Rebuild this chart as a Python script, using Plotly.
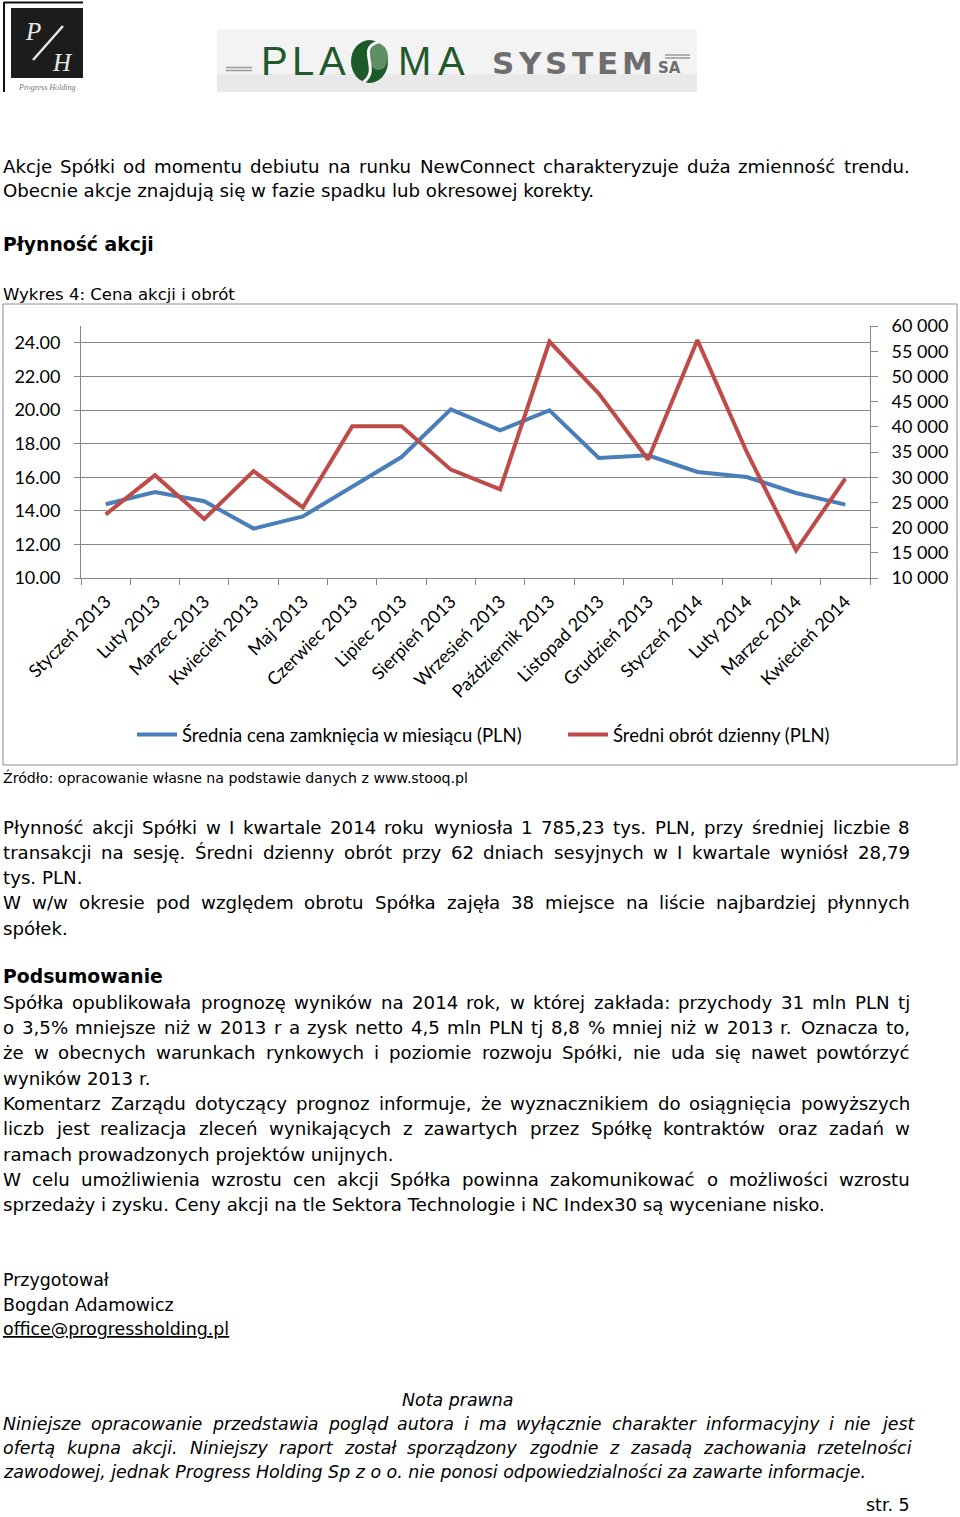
import glob
import struct
import plotly.graph_objects as go

# ---------------- data ----------------
months = ["Styczeń 2013", "Luty 2013", "Marzec 2013", "Kwiecień 2013", "Maj 2013",
          "Czerwiec 2013", "Lipiec 2013", "Sierpień 2013", "Wrzesień 2013",
          "Październik 2013", "Listopad 2013", "Grudzień 2013", "Styczeń 2014",
          "Luty 2014", "Marzec 2014", "Kwiecień 2014"]
avg_close = [14.39, 15.12, 14.57, 12.94, 13.67, 15.42, 17.20, 20.04, 18.79,
             19.98, 17.14, 17.30, 16.31, 16.01, 15.06, 14.37]
avg_turnover = [22600, 30400, 21700, 31200, 24000, 40100, 40100, 31500, 27600,
                56900, 46600, 33500, 57200, 35000, 15500, 29700]
series_names = ["Średnia cena zamknięcia w miesiącu (PLN)", "Średni obrót dzienny (PLN)"]

para1 = ["Akcje Spółki od momentu debiutu na runku NewConnect charakteryzuje duża zmienność trendu.",
         "Obecnie akcje znajdują się w fazie spadku lub okresowej korekty."]
para2 = ["Płynność akcji Spółki w I kwartale 2014 roku wyniosła 1 785,23 tys. PLN, przy średniej liczbie 8",
         "transakcji na sesję. Średni dzienny obrót przy 62 dniach sesyjnych w I kwartale wyniósł 28,79",
         "tys. PLN.",
         "W w/w okresie pod względem obrotu Spółka zajęła 38 miejsce na liście najbardziej płynnych",
         "spółek."]
para2_just = [True, True, False, True, False]
para3 = ["Spółka opublikowała prognozę wyników na 2014 rok, w której zakłada: przychody 31 mln PLN tj",
         "o 3,5% mniejsze niż w 2013 r a zysk netto 4,5 mln PLN tj 8,8 % mniej niż w 2013 r. Oznacza to,",
         "że w obecnych warunkach rynkowych i poziomie rozwoju Spółki, nie uda się nawet powtórzyć",
         "wyników 2013 r.",
         "Komentarz Zarządu dotyczący prognoz informuje, że wyznacznikiem do osiągnięcia powyższych",
         "liczb jest realizacja zleceń wynikających z zawartych przez Spółkę kontraktów oraz zadań w",
         "ramach prowadzonych projektów unijnych.",
         "W celu umożliwienia wzrostu cen akcji Spółka powinna zakomunikować o możliwości wzrostu",
         "sprzedaży i zysku. Ceny akcji na tle Sektora Technologie i NC Index30 są wyceniane nisko."]
para3_just = [True, True, True, False, True, True, False, True, False]
note = ["Niniejsze opracowanie przedstawia pogląd autora i ma wyłącznie charakter informacyjny i nie jest",
        "ofertą kupna akcji. Niniejszy raport został sporządzony zgodnie z zasadą zachowania rzetelności",
        "zawodowej, jednak Progress Holding Sp z o o. nie ponosi odpowiedzialności za zawarte informacje."]
note_just = [True, True, False]

# ---------------- font metrics (for justified text) ----------------
def load_metrics(name):
    paths = glob.glob("/usr/share/fonts/**/" + name, recursive=True)
    if not paths:
        return None
    data = open(paths[0], "rb").read()
    ntab = struct.unpack(">H", data[4:6])[0]
    tabs = {}
    for i in range(ntab):
        tag, cs, off, ln = struct.unpack(">4sIII", data[12 + 16 * i:28 + 16 * i])
        tabs[tag.decode("latin1")] = off
    head = tabs["head"]
    upem = struct.unpack(">H", data[head + 18:head + 20])[0]
    hhea = tabs["hhea"]
    nhm = struct.unpack(">H", data[hhea + 34:hhea + 36])[0]
    hm = tabs["hmtx"]
    adv = [struct.unpack(">H", data[hm + 4 * i:hm + 4 * i + 2])[0] for i in range(nhm)]
    cm = tabs["cmap"]
    nsub = struct.unpack(">H", data[cm + 2:cm + 4])[0]
    sub = None
    for i in range(nsub):
        pid, eid, off = struct.unpack(">HHI", data[cm + 4 + 8 * i:cm + 12 + 8 * i])
        s = cm + off
        fmt = struct.unpack(">H", data[s:s + 2])[0]
        if fmt == 4 and pid == 3 and eid == 1:
            sub = s
            break
    if sub is None:
        return None
    segx2 = struct.unpack(">H", data[sub + 6:sub + 8])[0]
    n = segx2 // 2
    ends = struct.unpack(">%dH" % n, data[sub + 14:sub + 14 + segx2])
    starts = struct.unpack(">%dH" % n, data[sub + 16 + segx2:sub + 16 + 2 * segx2])
    deltas = struct.unpack(">%dh" % n, data[sub + 16 + 2 * segx2:sub + 16 + 3 * segx2])
    rpos = sub + 16 + 3 * segx2
    roffs = struct.unpack(">%dH" % n, data[rpos:rpos + segx2])

    def gid(c):
        for k in range(n):
            if ends[k] >= c:
                if starts[k] > c:
                    return 0
                if roffs[k] == 0:
                    return (c + deltas[k]) & 0xFFFF
                addr = rpos + 2 * k + roffs[k] + 2 * (c - starts[k])
                g = struct.unpack(">H", data[addr:addr + 2])[0]
                return (g + deltas[k]) & 0xFFFF if g else 0
        return 0

    def width(s, size):
        tot = 0
        for ch in s:
            g = gid(ord(ch))
            tot += adv[min(g, nhm - 1)]
        return tot * size / upem
    return width


def safe_metrics(name, fallback):
    try:
        f = load_metrics(name)
    except Exception:
        f = None
    return f if f is not None else (lambda s, size: len(s) * fallback * size)


w_reg = safe_metrics("DejaVuSans.ttf", 0.58)
w_bold = safe_metrics("DejaVuSans-Bold.ttf", 0.66)
w_lib = safe_metrics("LiberationSans-Regular.ttf", 0.62)

BASE = 171.0 / w_reg("Bogdan Adamowicz", 1.0)
BODY = BASE * 1.045
CAPTION = 0.5 * (225.0 / w_reg("Wykres 4: Cena akcji i obrót", 1.0) + 0.94 * BODY)
SRC = 467.0 / w_reg("Źródło: opracowanie własne na podstawie danych z www.stooq.pl", 1.0)
BOLD = 160.0 / w_bold("Podsumowanie", 1.0)
FONT = "DejaVu Sans"

# ---------------- page geometry helpers ----------------
W, H = 960, 1517
ML, MR, MT, MB = 81, 90, 326, 939
PW, PH = W - ML - MR, H - MT - MB


def X(px):
    return (px - ML) / PW


def Y(py):
    return (MT + PH - py) / PH


annotations = []
shapes = []


def text(s, x, y, size=None, xanchor="left", color="#000000", family=FONT, yanchor="middle"):
    annotations.append(dict(text=s, x=X(x), y=Y(y), xref="paper", yref="paper",
                            xanchor=xanchor, yanchor=yanchor, showarrow=False,
                            borderpad=0, borderwidth=0,
                            font=dict(family=family, size=size or BODY, color=color)))


def line_text(s, y, justify, size, italic=False, x0=3, x1=910):
    wrap = (lambda t: "<i>" + t + "</i>") if italic else (lambda t: t)
    if not justify:
        text(wrap(s), x0, y, size=size)
        return
    words = s.split(" ")
    widths = [w_reg(wd, size) for wd in words]
    gap = (x1 - x0 - sum(widths)) / (len(words) - 1)
    gap = max(gap, 0.2 * size)
    pos = x0
    for wd, ww in zip(words, widths):
        text(wrap(wd), pos, y, size=size)
        pos += ww + gap


def spread(letters, x0, x1, y, size, wfun, family, color, bold=False):
    lw = [wfun(c, size) for c in letters]
    g = (x1 - x0 - sum(lw)) / max(len(letters) - 1, 1)
    p = x0
    for c, wv in zip(letters, lw):
        text(("<b>%s</b>" % c) if bold else c, p, y, size=size, color=color, family=family)
        p += wv + g


# paragraph 1
line_text(para1[0], 166, True, BODY)
line_text(para1[1], 191, False, BODY)
# heading
text("<b>Płynność akcji</b>", 3, 244, size=BOLD)
text("Wykres 4: Cena akcji i obrót", 3, 294, size=CAPTION)
# source
text("Źródło: opracowanie własne na podstawie danych z www.stooq.pl", 3, 777, size=SRC)
# paragraph 2
for i, (s, j) in enumerate(zip(para2, para2_just)):
    line_text(s, 827 + 25.3 * i, j, BODY)
text("<b>Podsumowanie</b>", 3, 977, size=BOLD)
for i, (s, j) in enumerate(zip(para3, para3_just)):
    line_text(s, 1002 + 25.35 * i, j, BODY)
text("Przygotował", 3, 1280, size=BASE)
text("Bogdan Adamowicz", 3, 1305, size=BASE)
text("<u>office@progressholding.pl</u>", 3, 1329, size=BASE)
text("<i>Nota prawna</i>", 458, 1400, xanchor="center", size=BASE)
for i, (s, j) in enumerate(zip(note, note_just)):
    line_text(s, 1424 + 24 * i, j, BASE, italic=True, x1=912)
text("str. 5", 910, 1505, xanchor="right", size=BASE)

# ---------------- chart frame ----------------
shapes.append(dict(type="rect", xref="paper", yref="paper", x0=X(3), x1=X(957), y0=Y(765), y1=Y(304),
                   line=dict(color="#8c8c8c", width=1), fillcolor="rgba(0,0,0,0)", layer="below"))

# ---------------- header logos ----------------
# Progress Holding logo
shapes.append(dict(type="line", xref="paper", yref="paper", x0=X(4), x1=X(4), y0=Y(92), y1=Y(2),
                   line=dict(color="#111", width=2)))
shapes.append(dict(type="line", xref="paper", yref="paper", x0=X(4), x1=X(83), y0=Y(2.5), y1=Y(2.5),
                   line=dict(color="#111", width=2)))
shapes.append(dict(type="rect", xref="paper", yref="paper", x0=X(11), x1=X(83), y0=Y(78), y1=Y(8),
                   line=dict(width=0), fillcolor="#1c1c1c"))
shapes.append(dict(type="line", xref="paper", yref="paper", x0=X(33), x1=X(63), y0=Y(60), y1=Y(26),
                   line=dict(color="#e8e8e8", width=2.5)))
text("<i>P</i>", 33, 31, size=25, xanchor="center", color="#e8e8e8", family="Liberation Serif")
text("<i>H</i>", 62, 62, size=25, xanchor="center", color="#e8e8e8", family="Liberation Serif")
text("<i>Progress Holding</i>", 47, 87, size=8, xanchor="center", color="#777", family="Liberation Serif")

# Plasma System logo
shapes.append(dict(type="rect", xref="paper", yref="paper", x0=X(217), x1=X(697), y0=Y(92), y1=Y(29),
                   line=dict(width=0), fillcolor="#f3f3f3", layer="below"))
shapes.append(dict(type="rect", xref="paper", yref="paper", x0=X(217), x1=X(697), y0=Y(92), y1=Y(74),
                   line=dict(width=0), fillcolor="#e9e9e9", layer="below"))
for yy in (67.5, 70.5):
    shapes.append(dict(type="line", xref="paper", yref="paper", x0=X(226), x1=X(252), y0=Y(yy), y1=Y(yy),
                       line=dict(color="#9a9a9a", width=1.5)))
for yy in (55, 58):
    shapes.append(dict(type="line", xref="paper", yref="paper", x0=X(665), x1=X(690), y0=Y(yy), y1=Y(yy),
                       line=dict(color="#9a9a9a", width=1.5)))
GREEN = "#1e5a2b"
spread("PLA", 261, 346, 61, 40, w_lib, "Liberation Sans", GREEN)
spread("MA", 398, 465, 61, 40, w_lib, "Liberation Sans", GREEN)
shapes.append(dict(type="circle", xref="paper", yref="paper", x0=X(351), x1=X(388), y0=Y(83), y1=Y(40),
                   line=dict(width=0), fillcolor="#1d5a29"))
shapes.append(dict(type="circle", xref="paper", yref="paper", x0=X(369), x1=X(388), y0=Y(70), y1=Y(44),
                   line=dict(width=0), fillcolor="#5f8f65"))
cx = 369.5


def P(px, py):
    return "%f,%f" % (X(px), Y(py))


shapes.append(dict(type="path", xref="paper", yref="paper",
                   path="M " + P(cx + 9, 42) + " C " + P(cx - 14, 48) + " " + P(cx + 12, 70) + " " + P(cx - 6, 82),
                   line=dict(color="#ffffff", width=3)))
spread("SYSTEM", 492, 653, 63, 31, w_bold, FONT, "#6e6e6e", bold=True)
text("<b>SA</b>", 658, 68, size=15, color="#6e6e6e")

# ---------------- chart ----------------
fig = go.Figure()
fig.add_trace(go.Scatter(x=months, y=avg_close, name=series_names[0], mode="lines",
                         line=dict(color="#4A7EBB", width=4), yaxis="y", legend="legend"))
fig.add_trace(go.Scatter(x=months, y=avg_turnover, name=series_names[1], mode="lines",
                         line=dict(color="#BE4B48", width=4), yaxis="y2", legend="legend2"))

AX = "#868686"
LEG = dict(orientation="h", xanchor="left", yanchor="middle",
           font=dict(family="Lato", size=18.5, color="#000"), bgcolor="rgba(0,0,0,0)", itemwidth=40)
fig.update_layout(
    width=W, height=H,
    margin=dict(l=ML, r=MR, t=MT, b=MB, pad=0),
    paper_bgcolor="white", plot_bgcolor="white",
    separators=". ",
    font=dict(family="Lato", size=18, color="#000"),
    xaxis=dict(type="category", tickson="boundaries", ticks="outside", ticklen=6, tickcolor=AX,
               showline=True, linecolor=AX, linewidth=1, showgrid=False, tickangle=-45,
               ticklabelstandoff=5,
               tickfont=dict(family="Lato", size=18, color="#000"), range=[-0.5, 15.5]),
    yaxis=dict(range=[10, 25], tick0=10, dtick=2, tickformat=".2f", showgrid=True, gridcolor=AX,
               gridwidth=1, showline=True, linecolor=AX, ticks="outside", ticklen=6, tickcolor=AX,
               zeroline=False, ticklabelstandoff=10, tickfont=dict(family="Lato", size=18, color="#000")),
    yaxis2=dict(range=[10000, 60000], tick0=10000, dtick=5000, tickformat=",d", overlaying="y",
                side="right", showgrid=False, showline=True, linecolor=AX, ticks="outside", ticklen=7,
                tickcolor=AX, zeroline=False, ticklabelstandoff=10,
                tickfont=dict(family="Lato", size=18, color="#000")),
    legend=dict(LEG, x=X(132), y=Y(735)),
    legend2=dict(LEG, x=X(563), y=Y(735)),
    showlegend=True,
    annotations=annotations,
    shapes=shapes,
)

fig.write_html("out.html", config={"displayModeBar": False},
               post_script="document.body.style.margin='0px';")
